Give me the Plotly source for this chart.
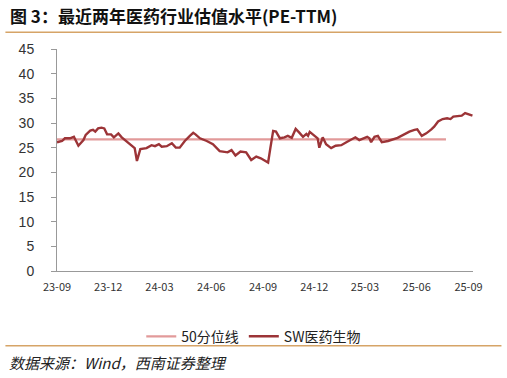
import plotly.graph_objects as go

dates = [
    "2023-09-01", "2023-09-10", "2023-09-15", "2023-09-24", "2023-10-01", "2023-10-09",
    "2023-10-18", "2023-10-22", "2023-10-30", "2023-11-04", "2023-11-08", "2023-11-13",
    "2023-11-19", "2023-11-24", "2023-11-29", "2023-12-06", "2023-12-11", "2023-12-19",
    "2023-12-25", "2024-01-03", "2024-01-12", "2024-01-17", "2024-01-21", "2024-01-27",
    "2024-02-07", "2024-02-16", "2024-02-22", "2024-02-29", "2024-03-05", "2024-03-14",
    "2024-03-23", "2024-03-30", "2024-04-06", "2024-04-15", "2024-04-24", "2024-04-30",
    "2024-05-04", "2024-05-12", "2024-05-24", "2024-06-04", "2024-06-16", "2024-06-30",
    "2024-07-07", "2024-07-14", "2024-07-23", "2024-08-02", "2024-08-11", "2024-08-20",
    "2024-08-28", "2024-09-04", "2024-09-10", "2024-09-14", "2024-09-19", "2024-09-24",
    "2024-10-01", "2024-10-09", "2024-10-15", "2024-10-22", "2024-10-29", "2024-11-04",
    "2024-11-11", "2024-11-17", "2024-11-20", "2024-11-23", "2024-11-27", "2024-12-02",
    "2024-12-07", "2024-12-10", "2024-12-16", "2024-12-22", "2024-12-31", "2025-01-08",
    "2025-01-18", "2025-01-27", "2025-02-05", "2025-02-12", "2025-02-19", "2025-02-26",
    "2025-03-05", "2025-03-09", "2025-03-12", "2025-03-18", "2025-03-24", "2025-03-31",
    "2025-04-11", "2025-04-28", "2025-05-10", "2025-05-19", "2025-05-28", "2025-06-02",
    "2025-06-10", "2025-06-18", "2025-06-27", "2025-07-02", "2025-07-09", "2025-07-17",
    "2025-07-25", "2025-07-31", "2025-08-05", "2025-08-14", "2025-08-20", "2025-08-26",
    "2025-09-02", "2025-09-08",
]
pe_ttm = [
    26.1, 26.35, 26.9, 26.9, 27.2, 25.4,
    26.55, 27.6, 28.45, 28.6, 28.25, 28.9,
    29.05, 28.9, 27.7, 27.7, 27.1, 27.9,
    27.1, 26.2, 25.3, 24.9, 22.3, 24.7,
    24.9, 25.5, 25.3, 25.7, 25.2, 25.3,
    25.9, 25.0, 25.0, 26.35, 27.4, 28.0,
    27.7, 26.9, 26.35, 25.7, 24.3, 24.05,
    24.5, 23.4, 24.2, 24.05, 22.5, 23.2,
    22.85, 22.3, 22.0, 24.9, 28.4, 28.25,
    26.9, 27.1, 27.4, 27.0, 28.8, 28.1,
    27.2, 27.8, 27.4, 28.2, 27.8, 27.2,
    26.9, 25.0, 27.1, 25.7, 24.9, 25.4,
    25.5, 26.1, 26.75, 27.1, 26.55, 26.9,
    27.2, 26.9, 26.1, 27.2, 27.4, 26.1,
    26.35, 27.0, 27.7, 28.25, 28.6, 28.7,
    27.4, 27.9, 28.7, 29.25, 30.3, 30.8,
    30.95, 30.8, 31.3, 31.5, 31.5, 32.0,
    31.8, 31.5,
]
median_dates = ["2023-09-01", "2025-07-23"]
median_values = [26.7, 26.7]

tick_dates = ["2023-09-01", "2023-12-01", "2024-03-01", "2024-06-01", "2024-09-01",
              "2024-12-01", "2025-03-01", "2025-06-01", "2025-09-01"]
tick_labels = ["23-09", "23-12", "24-03", "24-06", "24-09", "24-12", "25-03", "25-06", "25-09"]

title_text = "图 3：最近两年医药行业估值水平(PE-TTM)"
source_text = "数据来源：Wind，西南证券整理"

CJK = "Noto Sans CJK SC"
TAN = "#D6A467"

fig = go.Figure()
fig.add_trace(go.Scatter(
    x=median_dates, y=median_values, mode="lines", name="50分位线",
    line=dict(color="#E29A9A", width=2.2),
))
fig.add_trace(go.Scatter(
    x=dates, y=pe_ttm, mode="lines", name="SW医药生物",
    line=dict(color="#9C3437", width=2.4),
))

fig.update_layout(
    width=507, height=378,
    margin=dict(l=57, r=33.5, t=49, b=107),
    paper_bgcolor="white", plot_bgcolor="white",
    font=dict(family=CJK, color="#222"),
    showlegend=True,
    legend=dict(
        orientation="h", x=0.473, xanchor="center", y=-0.296, yanchor="middle",
        font=dict(family=CJK, size=14, color="#222"),
        itemwidth=30, traceorder="normal", bgcolor="rgba(0,0,0,0)",
    ),
    xaxis=dict(
        type="date", range=["2023-09-01", "2025-09-09"],
        tickvals=tick_dates, ticktext=tick_labels,
        showgrid=False, zeroline=False,
        showline=True, linecolor="#999", linewidth=1,
        ticks="", ticklabelstandoff=6,
        tickfont=dict(family=CJK, size=11, color="#333"),
    ),
    yaxis=dict(
        range=[0, 45], dtick=5, tick0=0,
        showgrid=False, zeroline=False,
        showline=True, linecolor="#999", linewidth=1,
        ticks="outside", ticklen=5, tickcolor="#999", ticklabelstandoff=14,
        tickfont=dict(family="Liberation Sans", size=14, color="#333"),
    ),
)

fig.add_annotation(
    xref="paper", yref="paper", x=-0.1168, y=1.153, xanchor="left", yanchor="middle",
    text="<b>" + title_text + "</b>", showarrow=False,
    font=dict(family=CJK, size=17, color="#111"),
)
fig.add_annotation(
    xref="paper", yref="paper", x=-0.1192, y=-0.414, xanchor="left", yanchor="middle",
    text="<i>" + source_text + "</i>", showarrow=False,
    font=dict(family=CJK, size=15, color="#222"),
)
for yy in [1.0752, -0.3365]:
    fig.add_shape(
        type="line", xref="paper", yref="paper", x0=-0.124, x1=1.0684, y0=yy, y1=yy,
        line=dict(color=TAN, width=1.5),
    )

fig.write_html("out.html")
